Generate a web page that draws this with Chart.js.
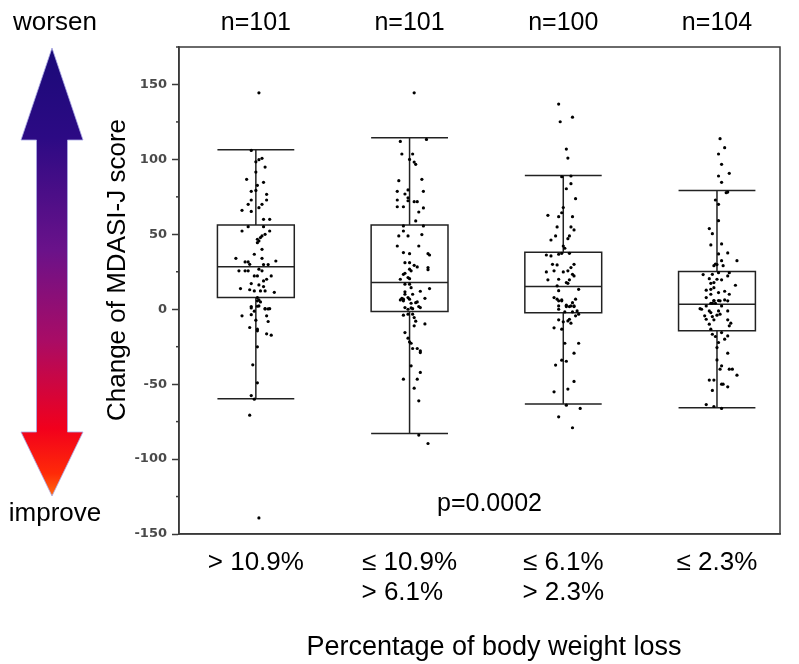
<!DOCTYPE html>
<html>
<head>
<meta charset="utf-8">
<script src="https://cdn.jsdelivr.net/npm/chart.js@4.4.0/dist/chart.umd.min.js"></script>
<style>
  html, body { margin: 0; padding: 0; background: #fff; }
</style>
</head>
<body>
<canvas id="boxChart" width="799" height="664"></canvas>
<script>
// groups (body weight loss), bottom tick lines
var categories = [['> 10.9%'], ['\u2264 10.9%', '> 6.1%  '], ['\u2264 6.1%', '> 2.3%'], ['\u2264 2.3%']];
var groupSizes = ['n=101', 'n=101', 'n=100', 'n=104'];
var pValue = 'p=0.0002';

// box statistics
var whiskerHigh = [106.5, 114.4, 89.3, 79.3];
var q3 = [56.2, 56.2, 38.0, 25.1];
var median = [28.4, 17.8, 15.1, 3.4];
var q1 = [7.8, -1.5, -2.4, -14.4];
var whiskerLow = [-59.8, -82.9, -63.3, -65.8];

// individual patients: [change of score, horizontal jitter in category units]
var group1 = [[144.4,.02],[106,-.03],[100.7,.04],[99.8,.02],[98.4,0],[94.9,.06],[91.5,0],[86.7,-.06],[84.7,.05],[82.7,.01],
  [79.3,0],[78.7,-.03],[76.7,.07],[72.9,-.03],[72.9,.07],[70,-.05],[70,.04],[67.8,.02],[66,-.09],[65.3,-.03],
  [60,.05],[60,.09],[55.1,-.05],[55.1,.05],[52.2,.09],[52.2,-.09],[50,.06],[48.9,.04],[47.8,.03],[46.7,.01],
  [45.6,.02],[44.4,.01],[40,.04],[36.7,-.01],[34,.04],[34,-.13],[31.6,-.07],[31.6,-.05],[30,-.04],[32.2,.13],
  [29.8,.05],[29.8,.08],[25.6,-.11],[25.6,-.07],[25.6,-.05],[26.7,.02],[25.6,.04],[22.2,-.01],[22.2,.01],[22.2,.10],
  [20,.07],[18.9,.05],[17.1,-.03],[16.2,.02],[15.1,.05],[13.8,-.10],[13,-.04],[12.2,-.01],[12.2,.03],[12.2,.06],
  [11.3,.12],[7.8,.01],[6.2,.02],[0.9,-.03],[2,.01],[0.2,.06],[0.2,.08],[5.6,.01],[4.9,.03],[1.8,-.03],
  [2.2,.02],[0.4,.06],[0.4,.09],[-1.3,-.01],[-4.4,-.09],[-3.6,-.03],[-4.4,.07],[-7.3,0],[-8.2,.08],[-12.2,-.04],
  [-13.3,.01],[-14.4,.01],[-16.4,.07],[-17.3,.10],[-25.1,.01],[-37.1,-.02],[-49.1,.01],[-57.6,-.03],[-60,-.01],[-70.7,-.04],
  [-139.3,.02]];
var group2 = [[144.4,.03],[112,-.06],[113.3,.11],[103.6,-.05],[103.6,.02],[100,0],[98.2,.03],[96.7,.04],[85.8,-.07],[86.7,.08],
  [79.6,-.01],[78.7,-.08],[78.7,.09],[76.9,-.03],[74.4,-.01],[72.9,-.08],[72.4,-.01],[71.8,.03],[71.8,.05],[68.4,-.08],
  [68.4,-.04],[67.6,.09],[64.9,.06],[58.9,.04],[55.6,-.04],[55.6,.09],[52.2,-.04],[48.9,-.07],[48.9,-.01],[49.8,.08],
  [42.2,-.08],[42.2,.06],[37.8,-.04],[37.1,0],[37.1,.12],[36.2,.13],[31.1,-.03],[31.1,0],[29.3,.03],[28.2,.05],
  [27.8,.12],[26.4,.12],[26.7,0],[25.6,.01],[24,-.03],[23.3,-.04],[21.1,-.01],[20,-.06],[20.4,0],[16.7,-.03],
  [16.7,0],[13.8,.13],[12,.07],[14.4,.01],[11.6,-.03],[10,.02],[10,-.03],[7.3,.10],[7.3,-.05],[6.7,-.04],
  [7.8,-.01],[4.9,.05],[1.1,-.03],[0.4,.02],[1.1,.07],[6.2,-.06],[5.6,-.04],[6.7,0],[4,.01],[4.4,.04],
  [1.8,.06],[-4,-.04],[-3.3,-.01],[-3.3,.02],[-5.6,.03],[-8,.04],[-9.8,.10],[-11.1,.03],[0.9,.01],[0,-.01],
  [-15.6,-.03],[-19.3,-.01],[-21.8,0],[-22.7,.01],[-26.2,.02],[-26.2,.05],[-27.8,.07],[-28.9,.07],[-37.8,.01],[-42.2,.07],
  [-46.7,-.04],[-46.7,.05],[-52.7,.03],[-61.1,.06],[-84,.06],[-89.6,.12]];
var group3 = [[136.9,-.03],[128.2,.06],[125.1,-.02],[106.9,.02],[100.9,.03],[88.4,-.01],[88.9,.05],[83.8,.05],[80.4,.02],[73.8,.08],
  [67.9,0],[64.4,-.01],[62.7,-.10],[61.8,-.03],[61.8,.06],[54.9,-.04],[54.9,.05],[52.9,.07],[48.9,-.05],[48.9,.04],
  [47.1,.03],[46.2,-.08],[42.2,0],[40.7,.01],[36.2,-.11],[35.6,-.08],[36.7,-.03],[37.3,-.01],[37.3,.04],[30,-.07],
  [29.6,-.04],[30,.07],[27.8,.05],[25.6,.03],[24.9,-.11],[25.6,-.06],[24.9,0],[23.3,.06],[22.2,.07],[19.6,-.10],
  [20,-.03],[19.6,.04],[17.8,.02],[17.3,.03],[15.6,-.04],[13.3,.10],[12.4,-.03],[7.8,-.06],[6.7,-.04],[5.6,-.01],
  [6.7,.08],[4.4,.06],[2.2,-.03],[1.8,.02],[1.8,.04],[1.8,.07],[5.6,-.03],[6.2,-.01],[2.7,.02],[2.2,.05],
  [2.2,.07],[0,-.03],[-1.8,.01],[-1.8,.06],[-1.1,.09],[-4.4,.08],[-3.3,.10],[-7.1,-.03],[-8.4,0],[-6.7,.04],
  [-9.3,.05],[-7.8,.03],[-12.4,-.06],[-13.3,-.01],[-22.7,.01],[-22.7,.10],[-29.3,.07],[-34,-.01],[-34.7,.02],[-37.3,-.05],
  [-48.2,.07],[-53.3,.03],[-55.1,-.06],[-64,.02],[-66.2,.11],[-71.8,-.03],[-79.1,.06]];
var group4 = [[113.8,.02],[107.8,.05],[103.6,.01],[96.7,.03],[90.7,.08],[88.9,.01],[84.7,.03],[77.8,.06],[78.2,.07],[72.9,-.01],
  [70,.01],[59.1,.01],[53.8,-.05],[50.4,-.03],[42.9,-.04],[43.6,.03],[37.6,.07],[36.9,.01],[32.4,.13],[32.4,.03],
  [30.2,-.01],[29.1,-.02],[29.1,.04],[29.8,0],[23.1,-.09],[23.3,-.03],[24.4,.01],[24.4,.08],[22.2,.07],[20.4,-.05],
  [20,0],[19.6,.03],[17.8,-.02],[17.3,-.04],[16,.12],[14.4,-.02],[13.3,-.04],[12.7,-.07],[12,.05],[11.1,.01],
  [10,.08],[10,-.04],[7.8,-.07],[6.2,.05],[5.8,-.02],[5.8,.01],[4,-.03],[0.4,-.11],[2.2,-.07],[2.2,.03],
  [5.6,-.02],[5.6,.02],[5.6,.07],[4,-.04],[4,-.01],[0,-.10],[-1.1,-.05],[-2.2,-.04],[-1.1,.01],[-3.3,.02],
  [-1.1,.07],[-4.4,-.08],[-4.9,-.03],[-4,0],[-6.7,-.07],[-7.1,-.02],[-7.1,.07],[-9.3,.09],[-11.1,.08],[-10,-.05],
  [-13.3,-.04],[-16.7,-.03],[-15.6,.03],[-17.8,.07],[-18.2,-.01],[-20,.05],[-22.2,.01],[-25.6,0],[-29.3,.07],[-33.8,0],
  [-37.8,.03],[-40,.02],[-40,.08],[-40,.10],[-44,.13],[-47.3,-.05],[-47.3,-.02],[-50,.03],[-50,.04],[-51.8,.07],
  [-54.2,-.03],[-63.6,-.07],[-64.9,-.02],[-66.2,.03]];

var groups = [group1, group2, group3, group4];
var textFont = '"Liberation Sans", Arial, sans-serif';
var axisColor = '#3a3a3a';
var boxHalfWidth = 0.25;

var boxPlugin = {
  id: 'boxes',
  beforeDatasetsDraw: function(chart) {
    var ctx = chart.ctx, xs = chart.scales.x, ys = chart.scales.y;
    ctx.save();
    ctx.strokeStyle = '#222';
    ctx.lineWidth = 1.5;
    for (var i = 0; i < categories.length; i++) {
      var l = xs.getPixelForValue(i + 1 - boxHalfWidth);
      var r = xs.getPixelForValue(i + 1 + boxHalfWidth);
      var m = xs.getPixelForValue(i + 1);
      var top = ys.getPixelForValue(q3[i]), bot = ys.getPixelForValue(q1[i]);
      var med = ys.getPixelForValue(median[i]);
      var hi = ys.getPixelForValue(whiskerHigh[i]), lo = ys.getPixelForValue(whiskerLow[i]);
      ctx.beginPath();
      ctx.rect(l, top, r - l, bot - top);
      ctx.moveTo(l, med); ctx.lineTo(r, med);
      ctx.moveTo(m, top); ctx.lineTo(m, hi);
      ctx.moveTo(m, bot); ctx.lineTo(m, lo);
      ctx.moveTo(l, hi); ctx.lineTo(r, hi);
      ctx.moveTo(l, lo); ctx.lineTo(r, lo);
      ctx.stroke();
    }
    ctx.restore();
  },
  afterDraw: function(chart) {
    var ctx = chart.ctx, xs = chart.scales.x, ys = chart.scales.y, a = chart.chartArea;
    ctx.save();
    // frame round the plot
    ctx.strokeStyle = axisColor;
    ctx.lineWidth = 1.5;
    ctx.strokeRect(a.left, a.top, a.right - a.left, a.bottom - a.top);
    // short minor ticks
    ys.ticks.forEach(function(t) {
      if (t.value % 50 !== 0) {
        var y = ys.getPixelForValue(t.value);
        ctx.beginPath(); ctx.moveTo(a.left - 3, y); ctx.lineTo(a.left, y); ctx.stroke();
      }
    });

    ctx.fillStyle = '#000';
    ctx.textAlign = 'center';
    ctx.textBaseline = 'middle';
    ctx.font = '25px ' + textFont;
    for (var i = 0; i < groupSizes.length; i++) {
      ctx.fillText(groupSizes[i], xs.getPixelForValue(i + 1), 23);
    }
    ctx.fillText(pValue, xs.getPixelForValue(2.52), ys.getPixelForValue(-130));

    ctx.font = '27px ' + textFont;
    ctx.fillText('Percentage of body weight loss', 494, 648);
    ctx.font = '26px ' + textFont;
    ctx.fillText('worsen', 55, 23);
    ctx.fillText('improve', 55, 514);

    ctx.save();
    ctx.translate(118, 270);
    ctx.rotate(-Math.PI / 2);
    ctx.fillText('Change of MDASI-J score', 0, 0);
    ctx.restore();

    // double headed gradient arrow
    var cx = 52, tipTop = 48, headTop = 140, headBot = 432, tipBot = 496, headHalf = 31, shaftHalf = 15.5;
    var g = ctx.createLinearGradient(0, tipTop, 0, tipBot);
    g.addColorStop(0, '#1a0a78');
    g.addColorStop(0.2, '#2c0a84');
    g.addColorStop(0.45, '#6a128a');
    g.addColorStop(0.65, '#a80c66');
    g.addColorStop(0.85, '#f2001c');
    g.addColorStop(0.95, '#ff2a08');
    g.addColorStop(1, '#ff6a10');
    ctx.beginPath();
    ctx.moveTo(cx, tipTop);
    ctx.lineTo(cx + headHalf, headTop);
    ctx.lineTo(cx + shaftHalf, headTop);
    ctx.lineTo(cx + shaftHalf, headBot);
    ctx.lineTo(cx + headHalf, headBot);
    ctx.lineTo(cx, tipBot);
    ctx.lineTo(cx - headHalf, headBot);
    ctx.lineTo(cx - shaftHalf, headBot);
    ctx.lineTo(cx - shaftHalf, headTop);
    ctx.lineTo(cx - headHalf, headTop);
    ctx.closePath();
    ctx.fillStyle = g;
    ctx.fill();
    ctx.strokeStyle = 'rgba(170,170,230,0.8)';
    ctx.lineWidth = 1;
    ctx.stroke();
    ctx.restore();
  }
};

new Chart(document.getElementById('boxChart'), {
  type: 'scatter',
  data: {
    datasets: groups.map(function(g, i) {
      return {
        data: g.map(function(p) { return { x: i + 1 + p[1], y: p[0] }; }),
        pointRadius: 1.6,
        pointBackgroundColor: '#000',
        pointBorderWidth: 0
      };
    })
  },
  options: {
    responsive: false,
    animation: false,
    devicePixelRatio: 1,
    layout: { padding: { top: 47, right: 19, left: 0, bottom: 0 } },
    plugins: { legend: { display: false }, tooltip: { enabled: false } },
    scales: {
      x: {
        type: 'linear',
        min: 0.5,
        max: 4.41,
        afterBuildTicks: function(s) {
          s.ticks = categories.map(function(c, i) { return { value: i + 1 }; });
        },
        afterFit: function(s) { s.height = 130; },
        grid: { display: false },
        border: { display: true, color: axisColor, width: 1.5 },
        ticks: {
          autoSkip: false,
          maxRotation: 0,
          padding: 6,
          color: '#000',
          font: { family: textFont, size: 26, lineHeight: 1.15 },
          callback: function(v) { return categories[Math.round(v) - 1]; }
        }
      },
      y: {
        min: -150,
        max: 175,
        afterFit: function(s) { s.width = 179; },
        border: { color: axisColor, width: 1.5 },
        grid: {
          drawOnChartArea: false,
          tickLength: 7,
          tickWidth: 1.5,
          tickColor: function(c) { return c.tick && c.tick.value % 50 === 0 ? axisColor : 'rgba(0,0,0,0)'; }
        },
        ticks: {
          stepSize: 25,
          padding: 5,
          color: '#4a4a4a',
          font: { family: '"DejaVu Sans", sans-serif', size: 13, weight: 'bold' },
          callback: function(v) { return v % 50 === 0 ? v : ''; }
        }
      }
    }
  },
  plugins: [boxPlugin]
});
</script>
</body>
</html>
